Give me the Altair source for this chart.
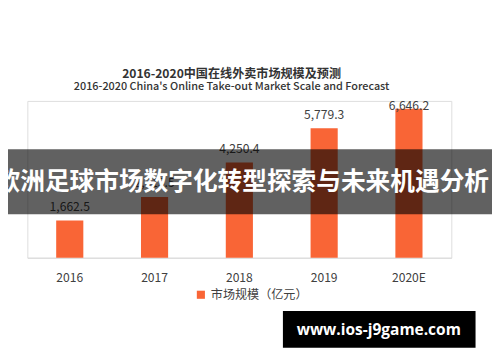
import altair as alt
import pandas as pd

years = ["2016", "2017", "2018", "2019", "2020E"]
values = [1662.5, 2715.5, 4250.4, 5779.3, 6646.2]
series_name = "市场规模（亿元）"
title_cn = "2016-2020中国在线外卖市场规模及预测"
title_en = "2016-2020 China's Online Take-out Market Scale and Forecast"
banner_text = "欧洲足球市场数字化转型探索与未来机遇分析"
watermark_text = "www.ios-j9game.com"

df = pd.DataFrame({"year": years, "value": values, "series": [series_name] * len(years)})

FONT = "Noto Sans CJK SC"
ORANGE = "#F96536"

x = alt.X("year:N", sort=years, title=None,
          scale=alt.Scale(paddingInner=0.68, paddingOuter=0.34),
          axis=alt.Axis(labelAngle=0, ticks=False, labelPadding=15, labelFontSize=12.5,
                        labelColor="#404040", labelFont=FONT, domainColor="#d9d9d9",
                        domainWidth=1))
y = alt.Y("value:Q", title=None, scale=alt.Scale(domain=[0, 7000]), axis=None)

bars = alt.Chart(df).mark_bar(color=ORANGE).encode(
    x=x, y=y,
    color=alt.Color("series:N", scale=alt.Scale(range=[ORANGE]),
                    legend=alt.Legend(title=None, orient="none", legendX=173, legendY=194,
                                      symbolType="square", symbolSize=70,
                                      labelFontSize=12.5, labelFont=FONT,
                                      labelColor="#404040", symbolStrokeWidth=0)),
)

label_enc = dict(x=alt.X("year:N", sort=years), y="value:Q",
                 text=alt.Text("value:Q", format=",.1f"))

labels = alt.Chart(df).transform_filter("datum.value < 6000").mark_text(
    baseline="bottom", dy=-7, fontSize=12.5, font=FONT, color="#404040").encode(**label_enc)

labels_top = alt.Chart(df).transform_filter("datum.value >= 6000").mark_text(
    baseline="bottom", dy=4, fontSize=12.5, font=FONT, color="#404040").encode(**label_enc)

banner = alt.Chart(df.head(1)).mark_rect(color="black", opacity=0.62).encode(
    x=alt.value(-30), x2=alt.value(480), y=alt.value(50), y2=alt.value(117))

banner_txt = alt.Chart(pd.DataFrame({"t": [banner_text]})).mark_text(
    fontSize=25.5, fontWeight="bold", font=FONT, color="white", align="center",
    baseline="middle").encode(x=alt.value(222), y=alt.value(84), text="t:N")

wm_box = alt.Chart(df.head(1)).mark_rect(color="black").encode(
    x=alt.value(264), x2=alt.value(463), y=alt.value(217), y2=alt.value(255))

wm_txt = alt.Chart(pd.DataFrame({"t": [watermark_text]})).mark_text(
    fontSize=16, fontWeight="bold", font="Open Sans", color="white", align="center",
    baseline="middle").encode(x=alt.value(363), y=alt.value(237), text="t:N")

chart = alt.layer(bars, labels, labels_top, banner, banner_txt, wm_box, wm_txt).properties(
    width=438, height=162,
    padding={"left": 20, "top": 90, "right": 42, "bottom": 110},
    autosize=alt.AutoSizeParams(type="none"),
    title=alt.TitleParams(text=title_cn, subtitle=title_en, anchor="middle", dx=-8,
                          font=FONT, fontSize=12.5, fontWeight="bold", color="#333333",
                          subtitleFont=FONT, subtitleFontSize=11.2, subtitleFontWeight=500,
                          subtitleColor="#333333", subtitlePadding=1, offset=8),
).configure_view(stroke=None).configure(background="white")

chart.save("out.html", embed_options={"renderer": "svg", "actions": False})
